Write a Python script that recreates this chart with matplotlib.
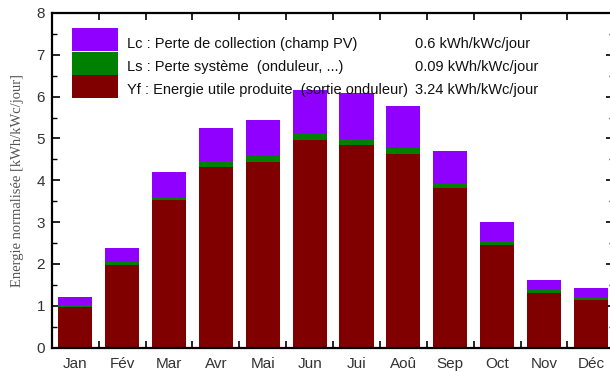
import numpy as np
import matplotlib.pyplot as plt
from matplotlib.patches import Rectangle
from matplotlib.ticker import MultipleLocator, FixedLocator

# monthly normalised energies (kWh/kWc/jour)
months = ['Jan', 'Fév', 'Mar', 'Avr', 'Mai', 'Jun', 'Jui', 'Aoû', 'Sep', 'Oct', 'Nov', 'Déc']
yf = [0.98, 1.98, 3.53, 4.33, 4.44, 4.97, 4.85, 4.63, 3.81, 2.46, 1.30, 1.14]
ls = [0.05, 0.07, 0.08, 0.12, 0.13, 0.13, 0.14, 0.14, 0.10, 0.09, 0.08, 0.08]
lc = [0.19, 0.33, 0.59, 0.81, 0.88, 1.05, 1.10, 1.01, 0.80, 0.46, 0.24, 0.20]

legend_labels = ['Lc : Perte de collection (champ PV)',
                 'Ls : Perte système  (onduleur, ...)',
                 'Yf : Energie utile produite  (sortie onduleur)']
legend_values = ['0.6 kWh/kWc/jour', '0.09 kWh/kWc/jour', '3.24 kWh/kWc/jour']

c_yf = '#800000'
c_ls = '#008000'
c_lc = '#8f00ff'

plt.rcParams['font.family'] = ['Liberation Sans', 'DejaVu Sans']

fig = plt.figure(figsize=(6.10, 3.71), dpi=100)
ax = fig.add_axes([0.085, 0.063, 0.922, 0.902])

x = np.arange(len(months))
yf_a = np.array(yf)
ls_a = np.array(ls)
lc_a = np.array(lc)
w = 0.73
ax.bar(x, yf_a, w, color=c_yf, zorder=2)
ax.bar(x, ls_a, w, bottom=yf_a, color=c_ls, zorder=2)
ax.bar(x, lc_a, w, bottom=yf_a + ls_a, color=c_lc, zorder=2)

ax.set_xlim(-0.5, len(months) - 0.5)
ax.set_ylim(0, 8)

# spines (right one sits just outside the picture)
for s in ['left', 'bottom', 'top']:
    ax.spines[s].set_linewidth(1.6)
    ax.spines[s].set_color('black')
ax.spines['right'].set_visible(False)

# y ticks
ax.yaxis.set_major_locator(MultipleLocator(1))
ax.yaxis.set_minor_locator(MultipleLocator(0.5))
ax.tick_params(axis='y', which='major', direction='in', length=6, width=1.2,
               labelsize=11, labelcolor='#333333', right=True, pad=5)
ax.tick_params(axis='y', which='minor', direction='in', length=3.5, width=1.0,
               right=True)

# x ticks: labels at centres, tick marks on month boundaries
ax.set_xticks(x)
ax.set_xticklabels(months)
ax.xaxis.set_minor_locator(FixedLocator(np.arange(0.5, len(months) - 0.5, 1)))
ax.tick_params(axis='x', which='major', length=0, labelsize=11,
               labelcolor='#333333', pad=6.5)
ax.tick_params(axis='x', which='minor', direction='in', length=5, width=1.2,
               top=True, bottom=True)

ax.set_ylabel('Energie normalisée [kWh/kWc/jour]', fontsize=10.5,
              family='Liberation Serif', color='#555555', labelpad=9)

# legend block
legend_colors = [c_lc, c_ls, c_yf]
ytops = [0.955, 0.884, 0.815]
h = 0.070
for i, col in enumerate(legend_colors):
    ax.add_patch(Rectangle((0.036, ytops[i] - h), 0.082, h, transform=ax.transAxes,
                           facecolor=col, edgecolor='none', zorder=3, clip_on=False))
rows = [0.906, 0.838, 0.771]
for i in range(3):
    ax.text(0.134, rows[i], legend_labels[i], transform=ax.transAxes, fontsize=10.5,
            va='center', ha='left', color='#111111', zorder=4)
    ax.text(0.645, rows[i], legend_values[i], transform=ax.transAxes, fontsize=10.5,
            va='center', ha='left', color='#111111', zorder=4)

fig.savefig('out.png', dpi=100)
